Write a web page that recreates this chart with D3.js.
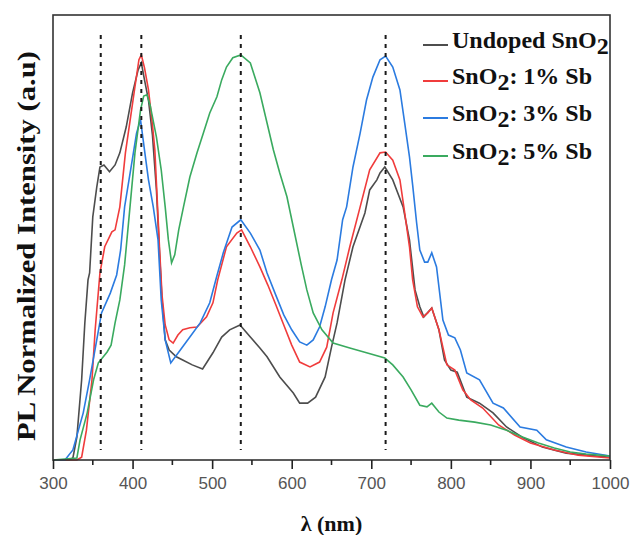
<!DOCTYPE html>
<html>
<head>
<meta charset="utf-8">
<script src="https://cdn.jsdelivr.net/npm/d3@7"></script>
<style>
  body { margin: 0; background: #fff; }
  .tick text { font-family: "Liberation Sans", Arial, sans-serif; }
</style>
</head>
<body>
<div id="pl_plot"></div>
<script>
// wavelengths (nm) and normalized PL intensity
var wlUndoped = [300,320,325,330,336,340,344,346,350,355,359,364,371,378,384,392,400,407,411,415,420,425,430,434,437,441,446,455,463,475,488,501,512,522,535,548,560,569,585,602,610,620,630,642,650,657,667,677,692,698,707,711,717,727,740,748,755,761,766,776,785,792,800,808,820,836,853,870,891,915,945,970,1000];
var undoped = [0,0,.005,.057,.199,.340,.447,.464,.603,.677,.727,.732,.715,.732,.762,.826,.911,.968,.985,.943,.893,.806,.670,.509,.397,.298,.273,.256,.248,.236,.226,.266,.305,.323,.335,.305,.278,.256,.206,.166,.141,.141,.156,.206,.280,.340,.447,.529,.613,.670,.695,.712,.727,.695,.628,.546,.422,.380,.355,.377,.323,.248,.223,.218,.156,.141,.117,.082,.055,.032,.017,.012,.007];

var wlSb1 = [300,330,336,342,349,353,359,365,374,378,384,391,397,403,408,411,415,420,425,428,431,434,437,441,446,451,457,463,472,481,493,501,507,518,531,537,548,560,570,580,590,600,610,623,635,644,652,663,673,686,698,711,718,727,736,742,748,752,758,765,771,776,785,795,805,815,825,840,860,880,900,930,960,1000];
var sb1 = [0,0,.007,.074,.199,.323,.464,.529,.566,.571,.628,.762,.844,.926,.993,1.005,.973,.918,.831,.769,.645,.521,.409,.335,.298,.290,.310,.323,.328,.330,.355,.390,.447,.529,.563,.571,.529,.479,.434,.385,.335,.285,.243,.231,.243,.280,.365,.447,.529,.628,.720,.762,.764,.744,.695,.613,.529,.447,.380,.355,.365,.377,.323,.236,.223,.174,.149,.129,.087,.062,.042,.025,.012,.005];

var wlSb3 = [300,315,325,338,346,355,361,372,380,385,390,399,405,410,415,420,426,432,436,441,448,460,472,485,497,506,514,525,536,548,560,569,580,590,600,610,619,627,635,642,650,657,664,669,677,686,694,702,711,718,727,736,742,748,752,757,761,767,771,776,782,790,797,805,812,820,836,853,866,887,908,920,945,970,1000];
var sb3 = [0,0,.025,.117,.199,.298,.365,.414,.459,.521,.628,.737,.811,.844,.769,.695,.628,.546,.397,.298,.241,.273,.305,.340,.390,.457,.514,.578,.596,.563,.521,.464,.409,.360,.323,.293,.285,.298,.330,.380,.447,.496,.596,.628,.727,.811,.893,.950,.993,1.002,.975,.918,.836,.752,.682,.588,.521,.491,.491,.514,.479,.347,.310,.303,.273,.216,.199,.141,.129,.082,.074,.050,.032,.020,.010];

var wlSb5 = [300,330,334,343,351,357,362,368,373,378,384,390,397,403,410,414,418,422,430,436,441,445,449,453,458,464,472,481,489,497,506,512,518,526,536,548,560,569,577,585,594,602,612,619,627,638,652,673,694,717,727,740,750,761,770,776,785,795,810,830,850,870,890,910,930,950,970,1000];
var sb5 = [0,.005,.050,.117,.199,.241,.253,.268,.285,.340,.397,.484,.633,.762,.868,.903,.906,.881,.801,.720,.628,.546,.489,.509,.571,.628,.702,.762,.811,.861,.901,.943,.975,.998,1.005,.985,.911,.836,.769,.712,.653,.578,.484,.422,.365,.323,.290,.278,.266,.253,.236,.206,.174,.136,.132,.141,.119,.104,.099,.094,.087,.074,.057,.042,.030,.020,.015,.010];

var seriesNames = ["Undoped SnO2", "SnO2: 1% Sb", "SnO2: 3% Sb", "SnO2: 5% Sb"];
var seriesColors = ["#4d4d4d", "#f03c3c", "#2b7be0", "#3aaa5f"];

// peak positions marked with dotted lines
var peakLines = [360, 411, 536, 718];

var xTicks = [300, 400, 500, 600, 700, 800, 900, 1000];
var xMinorTicks = [350, 450, 550, 650, 750, 850, 950];

var margin = { top: 15, right: 21, bottom: 75, left: 53 },
    width = 631 - margin.left - margin.right,
    height = 535 - margin.top - margin.bottom;

var svg = d3.select("#pl_plot")
    .append("svg")
    .attr("width", 631)
    .attr("height", 535)
    .append("g")
    .attr("transform", "translate(" + margin.left + "," + margin.top + ")");

var x = d3.scaleLinear()
    .domain([300, 1000])
    .range([0, width]);

var y = d3.scaleLinear()
    .domain([0, 1.104])
    .range([height, 0]);

// curves
var series = [
    { wl: wlUndoped, v: undoped },
    { wl: wlSb1, v: sb1 },
    { wl: wlSb3, v: sb3 },
    { wl: wlSb5, v: sb5 }
];

var line = d3.line()
    .x(function (d) { return x(d[0]); })
    .y(function (d) { return y(d[1]); });

svg.selectAll(".curve")
    .data(series)
    .enter()
    .append("path")
    .attr("class", "curve")
    .attr("fill", "none")
    .attr("stroke", function (d, i) { return seriesColors[i]; })
    .attr("stroke-width", 1.6)
    .attr("d", function (d) { return line(d.wl.map(function (w, i) { return [w, d.v[i]]; })); });

// dotted peak markers
svg.selectAll(".peak")
    .data(peakLines)
    .enter()
    .append("line")
    .attr("x1", function (d) { return x(d); })
    .attr("x2", function (d) { return x(d); })
    .attr("y1", 20)
    .attr("y2", height - 10)
    .attr("stroke", "#1a1a1a")
    .attr("stroke-width", 2)
    .attr("stroke-dasharray", "4,5");

// frame
svg.append("rect")
    .attr("width", width)
    .attr("height", height)
    .attr("fill", "none")
    .attr("stroke", "#333")
    .attr("stroke-width", 1.6);

// X axis, major + minor ticks
var xAxis = svg.append("g")
    .attr("transform", "translate(0," + height + ")")
    .call(d3.axisBottom(x).tickValues(xTicks).tickSize(9).tickPadding(8).tickFormat(d3.format("d")));
xAxis.select(".domain").remove();
xAxis.selectAll("line").attr("stroke", "#222").attr("stroke-width", 1.6);
xAxis.selectAll("text")
    .attr("fill", "#555")
    .style("font-size", "17px");

svg.append("g")
    .attr("transform", "translate(0," + height + ")")
    .selectAll("line")
    .data(xMinorTicks)
    .enter()
    .append("line")
    .attr("x1", function (d) { return x(d); })
    .attr("x2", function (d) { return x(d); })
    .attr("y1", 0)
    .attr("y2", 5)
    .attr("stroke", "#222")
    .attr("stroke-width", 1.6);

// X axis label
svg.append("text")
    .attr("text-anchor", "middle")
    .attr("x", width / 2)
    .attr("y", height + 71)
    .style("font-family", "'Liberation Serif', 'Times New Roman', serif")
    .style("font-weight", "bold")
    .style("font-size", "22px")
    .style("fill", "#111")
    .text("\u03bb (nm)");

// Y axis label
svg.append("text")
    .attr("text-anchor", "middle")
    .attr("transform", "rotate(-90)")
    .attr("x", -(246 - margin.top))
    .attr("y", 35 - margin.left)
    .attr("textLength", 390)
    .attr("lengthAdjust", "spacingAndGlyphs")
    .style("font-family", "'Liberation Serif', 'Times New Roman', serif")
    .style("font-weight", "bold")
    .style("font-size", "26px")
    .style("fill", "#111")
    .text("PL Normalized  Intensity (a.u)");

// Legend
var legendY = [30, 66, 103, 141];
var legend = svg.selectAll(".legend")
    .data(seriesNames)
    .enter()
    .append("g")
    .attr("transform", function (d, i) { return "translate(370," + legendY[i] + ")"; });

legend.append("line")
    .attr("x1", 0)
    .attr("x2", 25)
    .attr("y1", 0)
    .attr("y2", 0)
    .attr("stroke", function (d, i) { return seriesColors[i]; })
    .attr("stroke-width", 2);

var legendText = legend.append("text")
    .attr("x", 29)
    .attr("y", 3)
    .style("font-family", "'Liberation Serif', 'Times New Roman', serif")
    .style("font-weight", "bold")
    .style("font-size", "24px")
    .style("fill", "#111");

legendText.each(function (d) {
    var t = d3.select(this);
    var k = d.indexOf("SnO2");
    t.append("tspan").text(d.slice(0, k + 3));
    t.append("tspan").attr("dy", 6).text("2");
    var rest = d.slice(k + 4);
    if (rest.length) t.append("tspan").attr("dy", -6).text(rest);
});
</script>
</body>
</html>
